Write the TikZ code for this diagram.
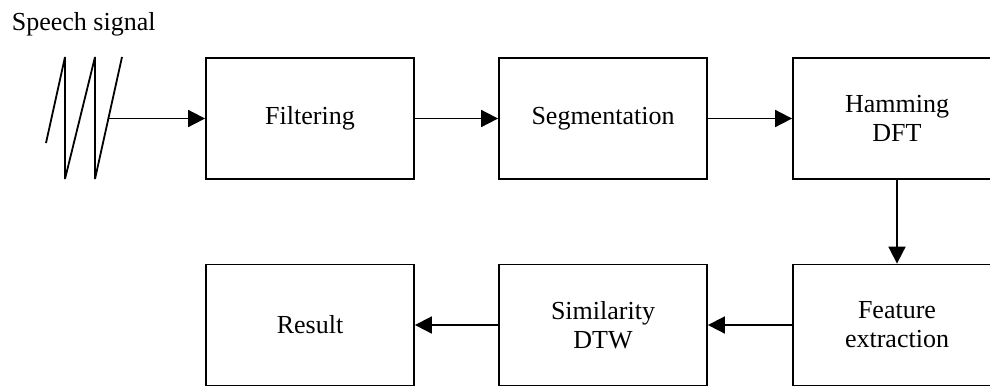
\documentclass[tikz,border=0pt]{standalone}
\usepackage{fontspec}
\setmainfont{Liberation Serif}
\usetikzlibrary{arrows.meta}

\begin{document}
\begin{tikzpicture}[
    x=0.5pt, y=-0.5pt,
    line width=0.9pt,
    block/.style={
        rectangle,
        draw=black,
        minimum width=104pt,
        minimum height=60.5pt,
        inner sep=0pt,
        font=\fontsize{13}{14.5}\selectfont,
        align=center
    },
    flow/.style={-{Triangle[length=8.5pt,width=8.5pt]}}
]
\useasboundingbox (0,0) rectangle (990,387);

% Label
\node[anchor=base west, inner sep=0pt, font=\fontsize{13}{14.5}\selectfont] (label) at (11,30) {Speech signal};

% Signal
\draw[line join=bevel] (46,143) -- (65,57) -- (65,179) -- (95,57) -- (95,179) -- (122,57);
\coordinate (sig) at (108.4,118.5);

% Top row
\node[block] (filter) at (310,118.5) {Filtering};
\node[block] (segment) at (603,118.5) {Segmentation};
\node[block] (hamming) at (897,118.5) {Hamming\\DFT};

% Bottom row
\node[block] (result) at (310,325) {Result};
\node[block] (similarity) at (603,325) {Similarity\\DTW};
\node[block] (feature) at (897,325) {Feature\\extraction};

% Arrows
\draw[flow] (sig) -- (filter);
\draw[flow] (filter) -- (segment);
\draw[flow] (segment) -- (hamming);
\draw[flow] (hamming) -- (feature);
\draw[flow] (feature) -- (similarity);
\draw[flow] (similarity) -- (result);

\end{tikzpicture}
\end{document}
